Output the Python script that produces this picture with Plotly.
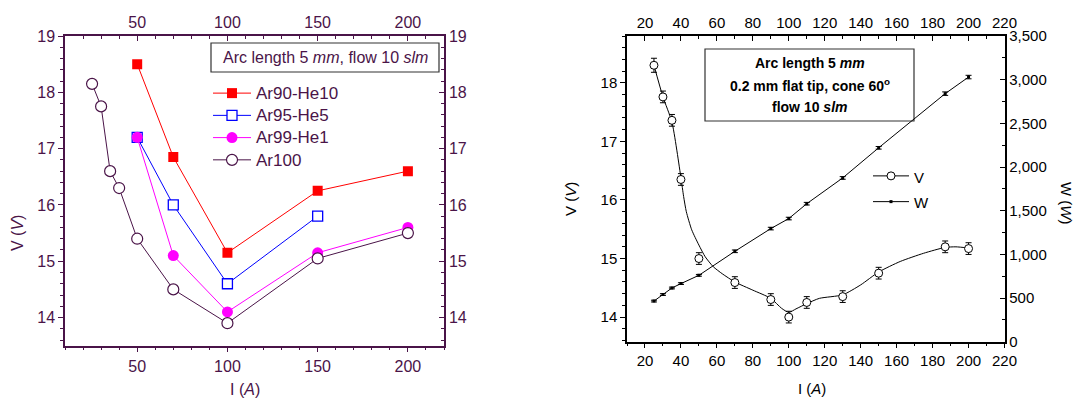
import plotly.graph_objects as go

# ---------------- data: left chart ----------------
I_ar90 = [50, 70, 100, 150, 200]
V_ar90 = [18.5, 16.85, 15.15, 16.25, 16.6]
I_ar95 = [50, 70, 100, 150]
V_ar95 = [17.2, 16.0, 14.6, 15.8]
I_ar99 = [50, 70, 100, 150, 200]
V_ar99 = [17.2, 15.1, 14.1, 15.15, 15.6]
I_ar100 = [25, 30, 35, 40, 50, 70, 100, 150, 200]
V_ar100 = [18.15, 17.75, 16.6, 16.3, 15.4, 14.5, 13.9, 15.05, 15.5]

# ---------------- data: right chart ----------------
I_r = [25, 30, 35, 40, 50, 70, 90, 100, 110, 130, 150, 187, 200]
V_r = [18.3, 17.76, 17.36, 16.35, 15.0, 14.59, 14.3, 14.0, 14.25, 14.35, 14.75, 15.2, 15.17]
V_err = [0.12, 0.1, 0.1, 0.1, 0.1, 0.1, 0.1, 0.1, 0.1, 0.1, 0.1, 0.1, 0.1]
W_r = [465, 540, 615, 665, 760, 1035, 1295, 1410, 1580, 1875, 2220, 2840, 3030]
W_err = [10, 10, 10, 10, 10, 15, 15, 15, 15, 15, 15, 20, 20]
# fitted curve of V
fit_I = [25, 30, 35, 40, 41.5, 43, 46, 50, 53.5, 58, 63, 70, 80, 90, 96, 100, 104,
         110, 117, 130, 140, 150, 162, 175, 187, 193, 200]
fit_V = [18.3, 17.76, 17.33, 16.38, 16.06, 15.8, 15.49, 15.23, 15.03, 14.86, 14.74,
         14.6, 14.46, 14.32, 14.15, 14.08, 14.14, 14.23, 14.32, 14.38, 14.55, 14.77,
         14.95, 15.09, 15.19, 15.2, 15.18]

PUR = "#4a1448"
FONT = "Liberation Sans, Arial, sans-serif"
W, H = 1080, 403


def px_x(p):
    return p / W


def px_y(p):
    return 1 - p / H


def big(name, size):
    return "<span style='font-size:%dpx'>%s</span>" % (size, name)


fig = go.Figure()

# left chart traces
fig.add_trace(go.Scatter(x=I_ar90, y=V_ar90, name=big("Ar90-He10", 17.5), mode="lines+markers",
                         line=dict(color="#ff0000", width=1),
                         marker=dict(symbol="square", size=10, color="#ff0000"),
                         xaxis="x", yaxis="y", legend="legend"))
fig.add_trace(go.Scatter(x=I_ar95, y=V_ar95, name=big("Ar95-He5", 17.5), mode="lines+markers",
                         line=dict(color="#0000ff", width=1),
                         marker=dict(symbol="square", size=10, color="white",
                                     line=dict(color="#0000ff", width=1.3)),
                         xaxis="x", yaxis="y", legend="legend"))
fig.add_trace(go.Scatter(x=I_ar99, y=V_ar99, name=big("Ar99-He1", 17.5), mode="lines+markers",
                         line=dict(color="#ff00ff", width=1),
                         marker=dict(symbol="circle", size=11, color="#ff00ff"),
                         xaxis="x", yaxis="y", legend="legend"))
fig.add_trace(go.Scatter(x=I_ar100, y=V_ar100, name=big("Ar100", 17.5), mode="lines+markers",
                         line=dict(color=PUR, width=1),
                         marker=dict(symbol="circle", size=11, color="white",
                                     line=dict(color=PUR, width=1.2)),
                         xaxis="x", yaxis="y", legend="legend"))
# empty trace so that the mirrored (top / right) axes of the left chart are drawn
fig.add_trace(go.Scatter(x=[None], y=[None], xaxis="x3", yaxis="y3", showlegend=False,
                         hoverinfo="skip"))

# right chart traces
fig.add_trace(go.Scatter(x=fit_I, y=fit_V, mode="lines", line=dict(color="black", width=1,
                         shape="spline", smoothing=0.6),
                         showlegend=False, xaxis="x2", yaxis="y2", hoverinfo="skip"))
fig.add_trace(go.Scatter(x=I_r, y=V_r, mode="markers", showlegend=False,
                         marker=dict(symbol="circle", size=8, color="white",
                                     line=dict(color="black", width=1)),
                         error_y=dict(type="data", array=V_err, color="black",
                                      thickness=1, width=3),
                         xaxis="x2", yaxis="y2"))
fig.add_trace(go.Scatter(x=[None], y=[None], name=big("V", 15), mode="lines+markers",
                         line=dict(color="black", width=1),
                         marker=dict(symbol="circle", size=8, color="white",
                                     line=dict(color="black", width=1)),
                         xaxis="x2", yaxis="y2", legend="legend2"))
fig.add_trace(go.Scatter(x=I_r, y=W_r, name=big("W", 15), mode="lines+markers",
                         line=dict(color="black", width=1),
                         marker=dict(symbol="square", size=3, color="black"),
                         error_y=dict(type="data", array=W_err, color="black",
                                      thickness=1, width=3),
                         xaxis="x4", yaxis="y4", legend="legend2"))

L_dom_x = [px_x(65), px_x(444)]
L_dom_y = [px_y(345.7), px_y(36)]
R_dom_x = [px_x(627), px_x(1004.5)]
R_dom_y = [px_y(341.7), px_y(36)]

ax_common = dict(showgrid=False, zeroline=False, ticklen=5, tickwidth=1, showline=True)

lax = dict(ax_common, linecolor=PUR, linewidth=1.5, tickcolor=PUR,
           tickfont=dict(family=FONT, size=16, color=PUR))
rax = dict(ax_common, linecolor="black", linewidth=1.5, tickcolor="black",
           tickfont=dict(family=FONT, size=15, color="black"))

fig.update_layout(
    width=W, height=H, autosize=False,
    margin=dict(l=0, r=0, t=0, b=0, autoexpand=False),
    paper_bgcolor="white", plot_bgcolor="white",
    font=dict(family=FONT, color=PUR),
    xaxis=dict(lax, domain=L_dom_x, range=[10, 220], tick0=0, dtick=50, ticks="outside",
               anchor="y", minor=dict(dtick=10, ticklen=3, ticks="outside", tickcolor=PUR)),
    xaxis3=dict(lax, range=[10, 220], tick0=0, dtick=50, ticks="inside", side="top",
                overlaying="x", anchor="y",
                minor=dict(dtick=10, ticklen=3, ticks="inside", tickcolor=PUR)),
    yaxis=dict(lax, domain=L_dom_y, range=[13.5, 19], dtick=1, ticks="outside", anchor="x",
               minor=dict(dtick=0.2, ticklen=3, ticks="outside", tickcolor=PUR)),
    yaxis3=dict(lax, range=[13.5, 19], dtick=1, ticks="inside", side="right",
                overlaying="y", anchor="x",
                minor=dict(dtick=0.2, ticklen=3, ticks="inside", tickcolor=PUR)),
    xaxis2=dict(rax, domain=R_dom_x, range=[10, 220], tick0=0, dtick=20, ticks="outside",
                anchor="y2", minor=dict(dtick=10, ticklen=3, ticks="outside", tickcolor="black")),
    xaxis4=dict(rax, range=[10, 220], tick0=0, dtick=20, ticks="inside", side="top",
                overlaying="x2", anchor="y2",
                minor=dict(dtick=10, ticklen=3, ticks="inside", tickcolor="black")),
    yaxis2=dict(rax, domain=R_dom_y, range=[13.58, 18.8], dtick=1, ticks="outside",
                anchor="x2", minor=dict(dtick=0.2, ticklen=3, ticks="outside", tickcolor="black")),
    yaxis4=dict(rax, range=[0, 3500], dtick=500, tickformat=",", ticks="inside", side="right",
                overlaying="y2", anchor="x2",
                minor=dict(dtick=250, ticklen=3, ticks="inside", tickcolor="black")),
    legend=dict(x=px_x(208), y=px_y(77), xanchor="left", yanchor="top",
                bgcolor="rgba(0,0,0,0)", font=dict(family=FONT, size=14.8, color=PUR),
                traceorder="normal", itemwidth=38),
    legend2=dict(x=px_x(868), y=px_y(158), xanchor="left", yanchor="top",
                 bgcolor="rgba(0,0,0,0)", font=dict(family=FONT, size=17.5, color="black"),
                 traceorder="normal", itemwidth=36),
    shapes=[
        dict(type="rect", xref="paper", yref="paper", x0=px_x(211), x1=px_x(439),
             y0=px_y(72), y1=px_y(43), line=dict(color="#333333", width=1.2),
             fillcolor="white", layer="below"),
        dict(type="rect", xref="paper", yref="paper", x0=px_x(705), x1=px_x(914),
             y0=px_y(121), y1=px_y(49), line=dict(color="#333333", width=1.2),
             fillcolor="white", layer="below"),
    ],
)

ann = []


def add_text(txt, x, y, size, color, angle=0):
    ann.append(dict(text=txt, x=px_x(x), y=px_y(y), xref="paper", yref="paper",
                    xanchor="center", yanchor="middle", showarrow=False, textangle=angle,
                    font=dict(family=FONT, size=size, color=color)))


add_text("Arc length 5 <i>mm</i>, flow 10 <i>slm</i>", 325, 57.5, 16, PUR)
add_text("<b>Arc length 5 <i>mm</i></b>", 809.5, 63.5, 14, "black")
add_text("<b>0.2 mm flat tip, cone 60<sup>o</sup></b>", 809.5, 85.5, 14, "black")
add_text("<b>flow 10 <i>slm</i></b>", 809.5, 106.5, 14, "black")
add_text("V (<i>V</i>)", 17, 233, 16, PUR, -90)
add_text("I (<i>A</i>)", 245, 389, 16, PUR)
add_text("V (<i>V</i>)", 570, 199, 15, "black", -90)
add_text("I (<i>A</i>)", 812, 388, 15, "black")
add_text("W (<i>W</i>)", 1067, 203, 15, "black", 90)
fig.update_layout(annotations=ann)

fig.write_html("out.html", config={"displayModeBar": False},
               post_script="document.body.style.margin='0';document.body.style.overflow='hidden';")
